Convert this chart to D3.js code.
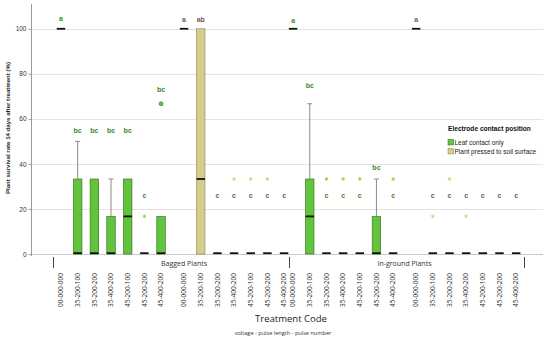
<!DOCTYPE html>
<html>
<head>
<meta charset="utf-8">
<script src="https://cdn.jsdelivr.net/npm/d3@7/dist/d3.min.js"></script>
<style>
  body { margin: 0; background: #fff; }
  svg { display: block; }
</style>
</head>
<body>
<div id="chart"></div>
<script>
(function() {
    'use strict';

    // treatment codes, repeated in every cluster
    var codes = ["00-000-000", "35-200-100", "35-200-200", "35-400-200", "45-200-100", "45-200-200", "45-400-200"];
    var groups = ["Bagged Plants", "In-ground Plants"];
    var contacts = ["Leaf contact only", "Plant pressed to soil surface"];

    // one entry per box, order: bagged/leaf, bagged/soil, in-ground/leaf, in-ground/soil
    var q1 = [100, 0, 0, 0, 0, 0, 0,   100, 0, 0, 0, 0, 0, 0,   100, 0, 0, 0, 0, 0, 0,   100, 0, 0, 0, 0, 0, 0];
    var median = [100, 0, 0, 0, 16.7, 0, 0,   100, 33.3, 0, 0, 0, 0, 0,   100, 16.7, 0, 0, 0, 0, 0,   100, 0, 0, 0, 0, 0, 0];
    var q3 = [100, 33.3, 33.3, 16.7, 33.3, 0, 16.7,   100, 100, 0, 0, 0, 0, 0,   100, 33.3, 0, 0, 0, 16.7, 0,   100, 0, 0, 0, 0, 0, 0];
    var whiskerHi = [100, 50, 33.3, 33.3, 33.3, 0, 16.7,   100, 100, 0, 0, 0, 0, 0,   100, 66.7, 0, 0, 0, 33.3, 0,   100, 0, 0, 0, 0, 0, 0];
    // [box index, value]
    var outliers = [[6, 66.7]];
    var extremes = [[5, 16.7], [10, 33.3], [11, 33.3], [12, 33.3], [16, 33.3], [17, 33.3], [18, 33.3], [20, 33.3], [22, 16.7], [23, 33.3], [24, 16.7]];
    var letters = ["a", "bc", "bc", "bc", "bc", "c", "bc",   "a", "ab", "c", "c", "c", "c", "c",
                   "a", "bc", "c", "c", "c", "bc", "c",   "a", "c", "c", "c", "c", "c", "c"];
    var letterAt = [104.5, 54.6, 54.6, 54.6, 54.6, 25.8, 72.8,   104, 104, 26, 26, 26, 26, 26,
                    103.5, 75, 26, 26, 26, 38.2, 26,   104, 26, 26, 26, 26, 26, 26];
    var yTicks = [0, 20, 40, 60, 80, 100];

    var fills = ["#62c33d", "#d5cc8e"];
    var strokes = ["#2f6b1c", "#8b8152"];
    var letterColors = ["#3a8a22", "#6f5e45"];
    var starColors = ["#86d65e", "#d9d08c"];

    var width = 550, height = 338;
    var clusterGap = 7.38, groupGap = 13.92;

    var boxes = [];
    groups.forEach(function(g, gi) {
        contacts.forEach(function(c, ci) {
            codes.forEach(function(code, k) {
                var i = boxes.length;
                boxes.push({
                    i: i, code: code, group: gi, contact: ci,
                    u: gi * groupGap + ci * clusterGap + k,
                    q1: q1[i], median: median[i], q3: q3[i], hi: whiskerHi[i],
                    letter: letters[i], letterAt: letterAt[i]
                });
            });
        });
    });

    var x = d3.scaleLinear().domain([-1.8, 28.91]).range([31, 543]);
    var y = d3.scaleLinear().domain([0, 111]).range([254, 4]);
    var boxW = 8.5;

    var svg = d3.select("#chart").append("svg")
        .attr("width", width)
        .attr("height", height);

    // grid
    svg.append("g")
        .selectAll("line")
        .data(yTicks)
        .enter().append("line")
        .attr("x1", 31).attr("x2", 543)
        .attr("y1", function(d) { return Math.round(y(d)) + 0.5; })
        .attr("y2", function(d) { return Math.round(y(d)) + 0.5; })
        .attr("stroke", function(d) { return d === 0 ? "#c8c8c8" : "#e2e2e2"; })
        .attr("stroke-width", 1);

    // y axis
    var yAxis = d3.axisLeft(y).tickValues(yTicks).tickSize(3).tickSizeOuter(0).tickPadding(2);
    var ya = svg.append("g")
        .attr("transform", "translate(31.5,0)")
        .call(yAxis);
    ya.select(".domain").attr("stroke", "#9a9a9a").attr("d", "M0," + y(111) + "V256");
    ya.selectAll(".tick line").attr("stroke", "#9a9a9a");
    ya.selectAll("text")
        .style("font-family", "Liberation Sans, Arial, sans-serif")
        .style("font-size", "6.5px")
        .attr("fill", "#333");

    svg.append("text")
        .attr("transform", "translate(10,128) rotate(-90)")
        .style("text-anchor", "middle")
        .style("font-family", "Liberation Sans, Arial, sans-serif")
        .style("font-size", "6.1px")
        .style("font-weight", "bold")
        .attr("fill", "#222")
        .text("Plant survival rate 14 days after treatment (%)");

    // whiskers
    var wk = svg.append("g");
    boxes.filter(function(b) { return b.hi > b.q3; }).forEach(function(b) {
        var cx = x(b.u);
        wk.append("line")
            .attr("x1", cx).attr("x2", cx)
            .attr("y1", y(b.q3)).attr("y2", y(b.hi))
            .attr("stroke", "#8c8c8c").attr("stroke-width", 1);
        wk.append("line")
            .attr("x1", cx - 2.5).attr("x2", cx + 2.5)
            .attr("y1", y(b.hi)).attr("y2", y(b.hi))
            .attr("stroke", "#8c8c8c").attr("stroke-width", 1);
    });

    // boxes
    svg.append("g")
        .selectAll("rect")
        .data(boxes.filter(function(b) { return b.q3 > b.q1; }))
        .enter().append("rect")
        .attr("x", function(b) { return x(b.u) - boxW / 2; })
        .attr("width", boxW)
        .attr("y", function(b) { return y(b.q3); })
        .attr("height", function(b) { return y(b.q1) - y(b.q3); })
        .attr("fill", function(b) { return fills[b.contact]; })
        .attr("stroke", function(b) { return strokes[b.contact]; })
        .attr("stroke-width", 0.6);

    // medians
    svg.append("g")
        .selectAll("line")
        .data(boxes)
        .enter().append("line")
        .attr("x1", function(b) { return x(b.u) - boxW / 2; })
        .attr("x2", function(b) { return x(b.u) + boxW / 2; })
        .attr("y1", function(b) { return y(b.median) - (b.median === 0 ? 0.8 : 0); })
        .attr("y2", function(b) { return y(b.median) - (b.median === 0 ? 0.8 : 0); })
        .attr("stroke", "#111")
        .attr("stroke-width", 1.8);

    // outliers
    svg.append("g")
        .selectAll("circle")
        .data(outliers)
        .enter().append("circle")
        .attr("cx", function(d) { return x(boxes[d[0]].u); })
        .attr("cy", function(d) { return y(d[1]); })
        .attr("r", 1.9)
        .attr("fill", function(d) { return fills[boxes[d[0]].contact]; })
        .attr("stroke", function(d) { return strokes[boxes[d[0]].contact]; })
        .attr("stroke-width", 0.6);

    // extremes
    var star = d3.symbol().type(d3.symbolAsterisk).size(9);
    svg.append("g")
        .selectAll("path")
        .data(extremes)
        .enter().append("path")
        .attr("transform", function(d) { return "translate(" + x(boxes[d[0]].u) + "," + y(d[1]) + ")"; })
        .attr("d", star)
        .attr("fill", "none")
        .attr("stroke", function(d) { return starColors[boxes[d[0]].contact]; })
        .attr("stroke-width", 1);

    // significance letters
    svg.append("g")
        .selectAll("text")
        .data(boxes)
        .enter().append("text")
        .attr("x", function(b) { return x(b.u); })
        .attr("y", function(b) { return y(b.letterAt); })
        .attr("dy", "0.35em")
        .style("text-anchor", "middle")
        .style("font-family", "Liberation Sans, Arial, sans-serif")
        .style("font-size", "7px")
        .style("font-weight", "bold")
        .attr("fill", function(b) { return letterColors[b.contact]; })
        .text(function(b) { return b.letter; });

    // x tick labels
    svg.append("g")
        .selectAll("text")
        .data(boxes)
        .enter().append("text")
        .attr("transform", function(b) { return "translate(" + x(b.u) + ",273) rotate(-90)"; })
        .attr("dy", "0.35em")
        .style("text-anchor", "end")
        .style("font-family", "Open Sans, sans-serif")
        .style("font-size", "6.5px")
        .attr("fill", "#2a2a2a")
        .text(function(b) { return b.code; });

    // group separators and labels
    var seps = [-0.48, 13.65, 27.75];
    svg.append("g")
        .selectAll("line")
        .data(seps)
        .enter().append("line")
        .attr("x1", function(d) { return Math.round(x(d)) + 0.5; })
        .attr("x2", function(d) { return Math.round(x(d)) + 0.5; })
        .attr("y1", 257).attr("y2", 268)
        .attr("stroke", "#444").attr("stroke-width", 1);

    var groupLabelAt = [7.38, 20.6];
    svg.append("g")
        .selectAll("text")
        .data(groups)
        .enter().append("text")
        .attr("x", function(d, i) { return x(groupLabelAt[i]); })
        .attr("y", 265.5)
        .style("text-anchor", "middle")
        .style("font-family", "Open Sans, sans-serif")
        .style("font-size", "7px")
        .attr("fill", "#333")
        .text(function(d) { return d; });

    svg.append("text")
        .attr("x", 291).attr("y", 321.5)
        .style("text-anchor", "middle")
        .style("font-family", "Open Sans, sans-serif")
        .style("font-size", "9.5px")
        .attr("fill", "#222")
        .text("Treatment Code");

    svg.append("text")
        .attr("x", 283).attr("y", 335)
        .style("text-anchor", "middle")
        .style("font-family", "Open Sans, sans-serif")
        .style("font-size", "5.6px")
        .attr("fill", "#333")
        .text("voltage - pulse length - pulse number");

    // legend
    var lg = svg.append("g").attr("transform", "translate(448,0)");
    lg.append("text")
        .attr("x", 0).attr("y", 130.5)
        .style("font-family", "Liberation Sans, Arial, sans-serif")
        .style("font-size", "6.6px")
        .style("font-weight", "bold")
        .attr("fill", "#111")
        .text("Electrode contact position");
    contacts.forEach(function(c, i) {
        lg.append("rect")
            .attr("x", 0).attr("y", 139.5 + i * 9)
            .attr("width", 5.5).attr("height", 5.5)
            .attr("fill", fills[i])
            .attr("stroke", strokes[i]).attr("stroke-width", 0.5);
        lg.append("text")
            .attr("x", 6.5).attr("y", 142.3 + i * 9)
            .attr("dy", "0.35em")
            .style("font-family", "Liberation Sans, Arial, sans-serif")
            .style("font-size", "6.5px")
            .attr("fill", "#222")
            .text(c);
    });
})();
</script>
</body>
</html>
